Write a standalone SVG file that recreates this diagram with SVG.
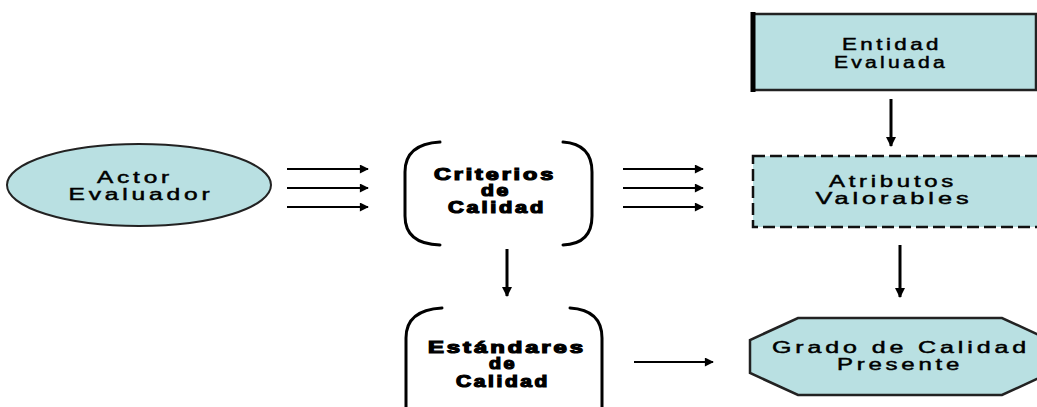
<svg xmlns="http://www.w3.org/2000/svg" width="1037" height="407" viewBox="0 0 1037 407">
<style>
.fill{fill:#b9e0e2}
.t{font-family:"Liberation Sans",Arial,sans-serif;font-size:16px;text-anchor:middle;fill:#000;letter-spacing:2.5px}
.r{stroke:#000;stroke-width:0.45}
.b{font-weight:bold;stroke:#000;stroke-width:1.2;font-size:16px;letter-spacing:2px}
.br{fill:none;stroke:#000;stroke-width:3;stroke-linecap:round}
.c{stroke:#000;fill:none}
</style>
<defs>
<marker id="ah" viewBox="0 0 10 10" refX="9" refY="5" markerWidth="6" markerHeight="4.5" markerUnits="strokeWidth" orient="auto">
<path d="M0,0 L10,5 L0,10 z" fill="#000"/>
</marker>
<marker id="av" viewBox="0 0 10 10" refX="9" refY="5" markerWidth="3.5" markerHeight="4" markerUnits="strokeWidth" orient="auto">
<path d="M0,0 L10,5 L0,10 z" fill="#000"/>
</marker>
</defs>
<rect width="1037" height="407" fill="#fff"/>
<g id="connectors">
<path class="c" stroke-width="2" marker-end="url(#ah)" d="M287,169 H368"/>
<path class="c" stroke-width="2" marker-end="url(#ah)" d="M287,188 H368"/>
<path class="c" stroke-width="2" marker-end="url(#ah)" d="M287,207 H368"/>
<path class="c" stroke-width="2" marker-end="url(#ah)" d="M623,169 H703"/>
<path class="c" stroke-width="2" marker-end="url(#ah)" d="M623,188 H703"/>
<path class="c" stroke-width="2" marker-end="url(#ah)" d="M623,207 H703"/>
<path class="c" stroke-width="3" marker-end="url(#av)" d="M507,249 V296"/>
<path class="c" stroke-width="3" marker-end="url(#av)" d="M891,99 V146"/>
<path class="c" stroke-width="3" marker-end="url(#av)" d="M900,245 V297"/>
<path class="c" stroke-width="2" marker-end="url(#ah)" d="M634,362 H713"/>
</g>
<g id="actor">
<ellipse class="fill" cx="139" cy="185" rx="132" ry="41" stroke="#222" stroke-width="2"/>
<text class="t r" x="135" y="183" textLength="76" lengthAdjust="spacingAndGlyphs">Actor</text>
<text class="t r" x="141" y="200" textLength="145" lengthAdjust="spacingAndGlyphs">Evaluador</text>
</g>
<g id="criterios">
<path class="br" d="M440,142 Q405,144 405,172 L405,216 Q405,244 440,245"/>
<path class="br" d="M563,142 Q592,144 592,172 L592,216 Q592,244 563,245"/>
<text class="t b" x="495" y="180" textLength="122" lengthAdjust="spacingAndGlyphs">Criterios</text>
<text class="t b" x="496" y="196" textLength="30" lengthAdjust="spacingAndGlyphs">de</text>
<text class="t b" x="497" y="213" textLength="98" lengthAdjust="spacingAndGlyphs">Calidad</text>
</g>
<g id="entidad">
<rect class="fill" x="753" y="14" width="283" height="76" stroke="#222" stroke-width="2.5"/>
<line x1="753" y1="12" x2="753" y2="92" stroke="#000" stroke-width="5"/>
<text class="t r" x="892" y="50" textLength="100" lengthAdjust="spacingAndGlyphs">Entidad</text>
<text class="t r" x="891" y="68" textLength="114" lengthAdjust="spacingAndGlyphs">Evaluada</text>
</g>
<g id="atributos">
<rect class="fill" x="753" y="156" width="290" height="71" stroke="#111" stroke-width="2.5" stroke-dasharray="12,5"/>
<text class="t r" x="893" y="187" textLength="128" lengthAdjust="spacingAndGlyphs">Atributos</text>
<text class="t r" x="894" y="204" textLength="157" lengthAdjust="spacingAndGlyphs">Valorables</text>
</g>
<g id="estandares">
<path class="br" d="M442,308 Q406,310 406,338 L406,410"/>
<path class="br" d="M570,308 Q602,310 602,338 L602,410"/>
<text class="t b" x="507" y="353" textLength="158" lengthAdjust="spacingAndGlyphs">Estándares</text>
<text class="t b" x="503" y="369" textLength="28" lengthAdjust="spacingAndGlyphs">de</text>
<text class="t b" x="503" y="387" textLength="94" lengthAdjust="spacingAndGlyphs">Calidad</text>
</g>
<g id="grado">
<polygon class="fill" points="798,318 1002,318 1050,340 1050,373 1002,395 798,395 750,373 750,340" stroke="#222" stroke-width="2.5"/>
<text class="t r" x="901" y="353" textLength="258" lengthAdjust="spacingAndGlyphs">Grado de Calidad</text>
<text class="t r" x="900" y="370" textLength="126" lengthAdjust="spacingAndGlyphs">Presente</text>
</g>
</svg>
